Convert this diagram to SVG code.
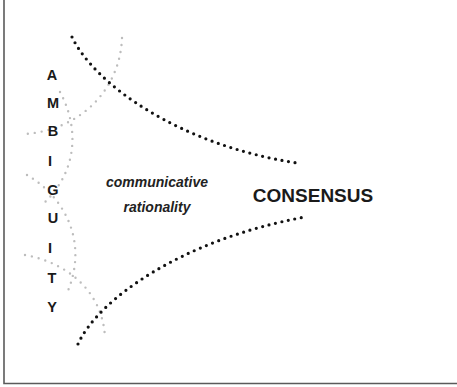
<svg xmlns="http://www.w3.org/2000/svg" width="457" height="387" viewBox="0 0 457 387">
<style>
.frame{fill:none;stroke:#5a5a5a;stroke-width:1.6}
.blk{fill:none;stroke:#111;stroke-width:3.2;stroke-linecap:round;stroke-dasharray:0 6.6}
.gry{fill:none;stroke:#bdbdbd;stroke-width:2.4;stroke-linecap:round;stroke-dasharray:0 7}
.let{font-family:"Liberation Sans",Arial,sans-serif;font-weight:bold;font-size:14.5px;fill:#1a1a1a;text-anchor:middle}
.ital{font-family:"Liberation Sans",Arial,sans-serif;font-weight:bold;font-style:italic;font-size:14px;fill:#222;text-anchor:middle}
.big{font-family:"Liberation Sans",Arial,sans-serif;font-weight:bold;font-size:19px;fill:#1a1a1a;text-anchor:middle}
</style>
<rect width="457" height="387" fill="#fff"/>
<path class="frame" d="M4,0 V383.5 H457"/>
<g id="connectors">
<path class="gry" d="M122,38 C120,90 80,130 25,134"/>
<path class="gry" d="M60,92 C78,125 80,170 42,205"/>
<path class="gry" d="M27,175 C62,195 90,240 67,293"/>
<path class="gry" d="M25,255 C65,262 103,290 105,338"/>
<path class="blk" d="M72,37 C95,85 180,145 297,163"/>
<path class="blk" d="M78,344 C98,300 180,240 305,217"/>
</g>
<g id="ambiguity">
<text class="let" x="52" y="80">A</text>
<text class="let" x="53" y="108">M</text>
<text class="let" x="53" y="136">B</text>
<text class="let" x="50" y="166">I</text>
<text class="let" x="53" y="195">G</text>
<text class="let" x="53" y="223">U</text>
<text class="let" x="50" y="253">I</text>
<text class="let" x="52" y="283">T</text>
<text class="let" x="52" y="312">Y</text>
</g>
<g id="communicative">
<text class="ital" x="157" y="186.5">communicative</text>
<text class="ital" x="157" y="211.5">rationality</text>
</g>
<g id="consensus">
<text class="big" x="313" y="202">CONSENSUS</text>
</g>
</svg>
